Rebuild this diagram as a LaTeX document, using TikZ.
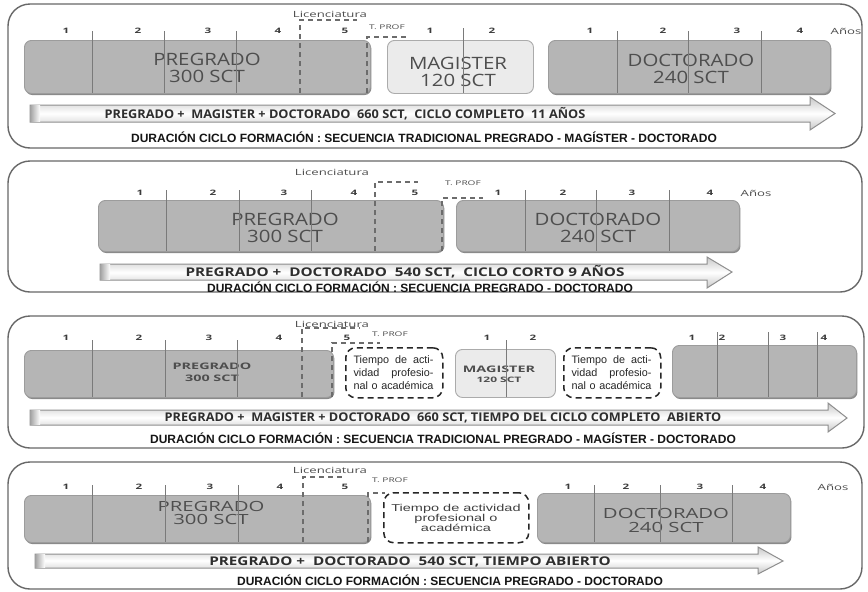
\documentclass[tikz,border=0pt]{standalone}
\usepackage{fontspec}
\setmainfont{Liberation Sans}
\newfontfamily\lblfam[FakeStretch=1.2]{Open Sans}
\newfontfamily\lblwide[FakeStretch=1.45]{Open Sans}
\newfontfamily\lblbold[FakeStretch=1.6]{Open Sans}
\newfontfamily\smallfam[FakeStretch=1.55]{Open Sans}
\newfontfamily\arrfam[FakeStretch=1.06]{Open Sans}
\newfontfamily\arrwide[FakeStretch=1.27]{Open Sans}
\newfontfamily\widefam[FakeStretch=1.45]{Liberation Sans}
\usetikzlibrary{shadows}

\definecolor{frameC}{HTML}{686868}
\definecolor{boxC}{HTML}{B5B5B5}
\definecolor{boxE}{HTML}{9C9C9C}
\definecolor{shadowC}{HTML}{8A8A8A}
\definecolor{magC}{HTML}{EBEBEB}
\definecolor{magE}{HTML}{ABABAB}
\definecolor{lblC}{HTML}{4E4E4E}
\definecolor{numC}{HTML}{3C3C3C}
\definecolor{lineC}{HTML}{7A7A7A}
\definecolor{dashC}{HTML}{6C6C6C}
\definecolor{tboxC}{HTML}{262626}
\definecolor{arrE}{HTML}{8E8E8E}
\definecolor{arrT}{HTML}{C8C8C8}
\definecolor{atC}{HTML}{2E2E2E}
\definecolor{capC}{HTML}{151515}

\newcommand\yrfont{\smallfam\bfseries\fontsize{7.5}{8}\selectfont}
\newcommand\smfont{\smallfam\fontsize{8.5}{9}\selectfont}
\newcommand\tpfont{\smallfam\fontsize{6.5}{7}\selectfont}
\newcommand\capfont{\bfseries\fontsize{12}{13}\selectfont}
\newcommand\atfont{\arrfam\bfseries\fontsize{12}{13}\selectfont}
\newcommand\atwfont{\arrwide\bfseries\fontsize{12}{13}\selectfont}
\newcommand\bigfont{\lblfam\fontsize{17}{17}\selectfont}

\tikzset{
  panelframe/.style={draw=frameC, line width=1.4pt, rounded corners=22pt},
  pbox/.style={draw=boxE, line width=0.9pt, fill=boxC, rounded corners=7pt,
    inner sep=0pt, anchor=north west,
    drop shadow={shadow xshift=1pt, shadow yshift=-1.6pt, fill=shadowC, opacity=1}},
  mbox/.style={draw=magE, line width=0.9pt, fill=magC, rounded corners=7pt,
    inner sep=0pt, anchor=north west},
  tbox/.style={draw=tboxC, line width=1.5pt, dash pattern=on 6pt off 4pt,
    rounded corners=10pt, inner sep=0pt, anchor=north west},
  yrlab/.style={font=\yrfont, text=numC, inner sep=0pt},
  smlab/.style={font=\smfont, text=lblC, inner sep=0pt},
  tplab/.style={font=\tpfont, text=lblC, inner sep=0pt},
  yline/.style={draw=lineC, line width=0.8pt},
  dline/.style={draw=dashC, line width=1.8pt, dash pattern=on 5pt off 4pt},
  boxlab/.style={text=lblC, align=center, inner sep=0pt},
  bigarrow/.style={draw=arrE, line width=1pt, top color=arrT, bottom color=arrT, middle color=white},
  arrowend/.style={left color=gray!70, right color=white},
  arrowtext/.style={font=\atfont, text=atC, inner sep=0pt},
  arrowtextw/.style={font=\atwfont, text=atC, inner sep=0pt},
  captiontext/.style={font=\capfont, text=capC, inner sep=0pt},
  notetext/.style={text=tboxC, align=center, inner sep=0pt}
}

\begin{document}
\begin{tikzpicture}[x=1pt, y=-1pt]
\useasboundingbox (0,0) rectangle (868,592);
\fill[white] (0,0) rectangle (868,592);

%% ---------- Secuencia tradicional: pregrado - magister - doctorado ----------
\draw[panelframe] (8,4) rectangle (862,148);
\node[pbox, minimum width=346, minimum height=53] (a1pre) at (24,40) {};
\node[mbox, minimum width=146, minimum height=53] (a1mag) at (387,40) {};
\node[pbox, minimum width=282, minimum height=53] (a1doc) at (548,40) {};
\node[boxlab, font=\bigfont] (a1prel) at (207,68) {PREGRADO\\300 SCT};
\node[boxlab, font=\bigfont] (a1magl) at (458,72) {MAGISTER\\120 SCT};
\node[boxlab, font=\bigfont] (a1docl) at (691,69) {DOCTORADO\\240 SCT};
\foreach \x in {92,164,236} \draw[yline] (\x,31) -- (\x,93);
\draw[yline] (463,28) -- (463,93);
\foreach \x in {617,688,761} \draw[yline] (\x,31) -- (\x,93);
\foreach \x/\t [count=\i] in {66/1,138/2,208/3,278/4,345/5,430/1,492/2,590/1,663/2,737/3,800/4}
  \node[yrlab] (a1y\i) at (\x,31) {\t};
\node[smlab] (a1anos) at (846,31) {Años};
\node[smlab] (a1lic) at (330,14) {Licenciatura};
\node[tplab] (a1tp) at (387,27) {T. PROF};
\draw[dline] (300,93) -- (300,20) -- (357,20);
\draw[dline] (367,93) -- (367,37) -- (408,37);
\draw[bigarrow] (30,105) -- (810,105) -- (810,97) -- (835,113.5) -- (810,130) -- (810,122) -- (30,122) -- cycle;
\fill[arrowend] (30.5,105.5) rectangle (40,121.5);
\node[arrowtext] (a1arr) at (345,114) {PREGRADO + \ MAGISTER + DOCTORADO \ 660 SCT, \ CICLO COMPLETO \ 11 AÑOS};
\node[captiontext] (a1cap) at (424,137) {DURACIÓN CICLO FORMACIÓN : SECUENCIA TRADICIONAL PREGRADO - MAGÍSTER - DOCTORADO};

%% ---------- Secuencia pregrado - doctorado ----------
\draw[panelframe] (8,161) rectangle (862,292);
\node[pbox, minimum width=345, minimum height=51] (b1pre) at (98,200) {};
\node[pbox, minimum width=283, minimum height=51] (b1doc) at (456,200) {};
\node[boxlab, font=\bigfont] (b1prel) at (285,228) {PREGRADO\\300 SCT};
\node[boxlab, font=\bigfont] (b1docl) at (598,228) {DOCTORADO\\240 SCT};
\foreach \x in {166,239,311} \draw[yline] (\x,190) -- (\x,251);
\foreach \x in {525,596,669} \draw[yline] (\x,190) -- (\x,251);
\foreach \x/\t [count=\i] in {140/1,213/2,284/3,354/4,415/5,498/1,563/2,632/3,710/4}
  \node[yrlab] (b1y\i) at (\x,193) {\t};
\node[smlab] (b1anos) at (756,193) {Años};
\node[smlab] (b1lic) at (332,172) {Licenciatura};
\node[tplab] (b1tp) at (463,183) {T. PROF};
\draw[dline] (375,251) -- (375,182) -- (418,182);
\draw[dline] (442,251) -- (442,198) -- (483,198);
\draw[bigarrow] (100,264) -- (707,264) -- (707,257) -- (732,272) -- (707,288) -- (707,280) -- (100,280) -- cycle;
\fill[arrowend] (100.5,264.5) rectangle (110,279.5);
\node[arrowtextw] (b1arr) at (405,272) {PREGRADO + \ DOCTORADO \ 540 SCT, \ CICLO CORTO 9 AÑOS};
\node[captiontext] (b1cap) at (420,287) {DURACIÓN CICLO FORMACIÓN : SECUENCIA PREGRADO - DOCTORADO};

%% ---------- Secuencia tradicional con tiempos abiertos ----------
\draw[panelframe] (8,316) rectangle (864,448);
\node[pbox, minimum width=309, minimum height=47] (c1pre) at (24,350) {};
\node[tbox, minimum width=97, minimum height=50] (c1t1) at (345,347) {};
\node[mbox, minimum width=100, minimum height=48] (c1mag) at (455,349) {};
\node[tbox, minimum width=97, minimum height=50] (c1t2) at (563,347) {};
\node[pbox, minimum width=184, minimum height=52] (c1doc) at (672,345) {};
\node[boxlab, font=\lblbold\bfseries\fontsize{9}{12}\selectfont] (c1prel) at (212,372) {PREGRADO\\300 SCT};
\node[boxlab, font=\lblbold\bfseries\fontsize{9}{10.5}\selectfont] (c1magl) at (499,374.5)
  {MAGISTER\\{\fontsize{7.5}{8}\selectfont 120 SCT}};
\node[notetext, font=\fontsize{10.8}{13}\selectfont] (c1t1l) at (393.5,373)
  {\makebox[80pt][s]{Tiempo de acti-}\\\makebox[80pt][s]{vidad profesio-}\\\makebox[80pt][s]{nal o académica}};
\node[notetext, font=\fontsize{10.8}{13}\selectfont] (c1t2l) at (611.5,373)
  {\makebox[80pt][s]{Tiempo de acti-}\\\makebox[80pt][s]{vidad profesio-}\\\makebox[80pt][s]{nal o académica}};
\foreach \x in {92,165,237} \draw[yline] (\x,340) -- (\x,397);
\draw[yline] (506,340) -- (506,397);
\foreach \x in {717,768,817} \draw[yline] (\x,332) -- (\x,397);
\foreach \x/\t [count=\i] in {66/1,139/2,209/3,279/4,347/5,487/1,533/2,692/1,722/2,783/3,824/4}
  \node[yrlab] (c1y\i) at (\x,338) {\t};
\node[smlab] (c1lic) at (332,324) {Licenciatura};
\node[tplab] (c1tp) at (390,334) {T. PROF};
\draw[dline] (302,397) -- (302,328) -- (360,328);
\draw[dline] (332,397) -- (332,343) -- (380,343);
\draw[bigarrow] (30,410) -- (828,410) -- (828,403) -- (847,418) -- (828,432) -- (828,425) -- (30,425) -- cycle;
\fill[arrowend] (30.5,410.5) rectangle (40,424.5);
\node[arrowtext] (c1arr) at (443,418) {PREGRADO + \ MAGISTER + DOCTORADO \ 660 SCT, TIEMPO DEL CICLO COMPLETO \ ABIERTO};
\node[captiontext] (c1cap) at (443,438) {DURACIÓN CICLO FORMACIÓN : SECUENCIA TRADICIONAL PREGRADO - MAGÍSTER - DOCTORADO};

%% ---------- Secuencia pregrado - doctorado con tiempo abierto ----------
\draw[panelframe] (8,462) rectangle (862,589);
\node[pbox, minimum width=346, minimum height=47] (d1pre) at (24,495) {};
\node[tbox, minimum width=145, minimum height=50] (d1t) at (383,492) {};
\node[pbox, minimum width=253, minimum height=49] (d1doc) at (537,493) {};
\node[boxlab, font=\lblwide\fontsize{14}{12.5}\selectfont] (d1prel) at (211,513) {PREGRADO\\300 SCT};
\node[boxlab, font=\lblwide\fontsize{14}{14}\selectfont] (d1docl) at (666,520) {DOCTORADO\\240 SCT};
\node[notetext, font=\widefam\fontsize{10}{10}\selectfont, text=black!75] (d1tl) at (456,518)
  {Tiempo de actividad\\profesional o\\académica};
\foreach \x in {92,165,238} \draw[yline] (\x,485) -- (\x,542);
\foreach \x in {594,660,732} \draw[yline] (\x,485) -- (\x,542);
\foreach \x/\t [count=\i] in {66/1,139/2,210/3,280/4,345/5,568/1,626/2,700/3,763/4}
  \node[yrlab] (d1y\i) at (\x,487) {\t};
\node[smlab] (d1anos) at (833,487) {Años};
\node[smlab] (d1lic) at (330,470) {Licenciatura};
\node[tplab] (d1tp) at (390,480) {T. PROF};
\draw[dline] (303,542) -- (303,477) -- (345,477);
\draw[dline] (368,542) -- (368,493) -- (385,493);
\draw[bigarrow] (35,554) -- (758,554) -- (758,547) -- (783,561) -- (758,574) -- (758,568) -- (35,568) -- cycle;
\fill[arrowend] (35.5,554.5) rectangle (45,567.5);
\node[arrowtextw] (d1arr) at (410,562) {PREGRADO + \ DOCTORADO \ 540 SCT, TIEMPO ABIERTO};
\node[captiontext] (d1cap) at (450,580) {DURACIÓN CICLO FORMACIÓN : SECUENCIA PREGRADO - DOCTORADO};
\end{tikzpicture}
\end{document}
